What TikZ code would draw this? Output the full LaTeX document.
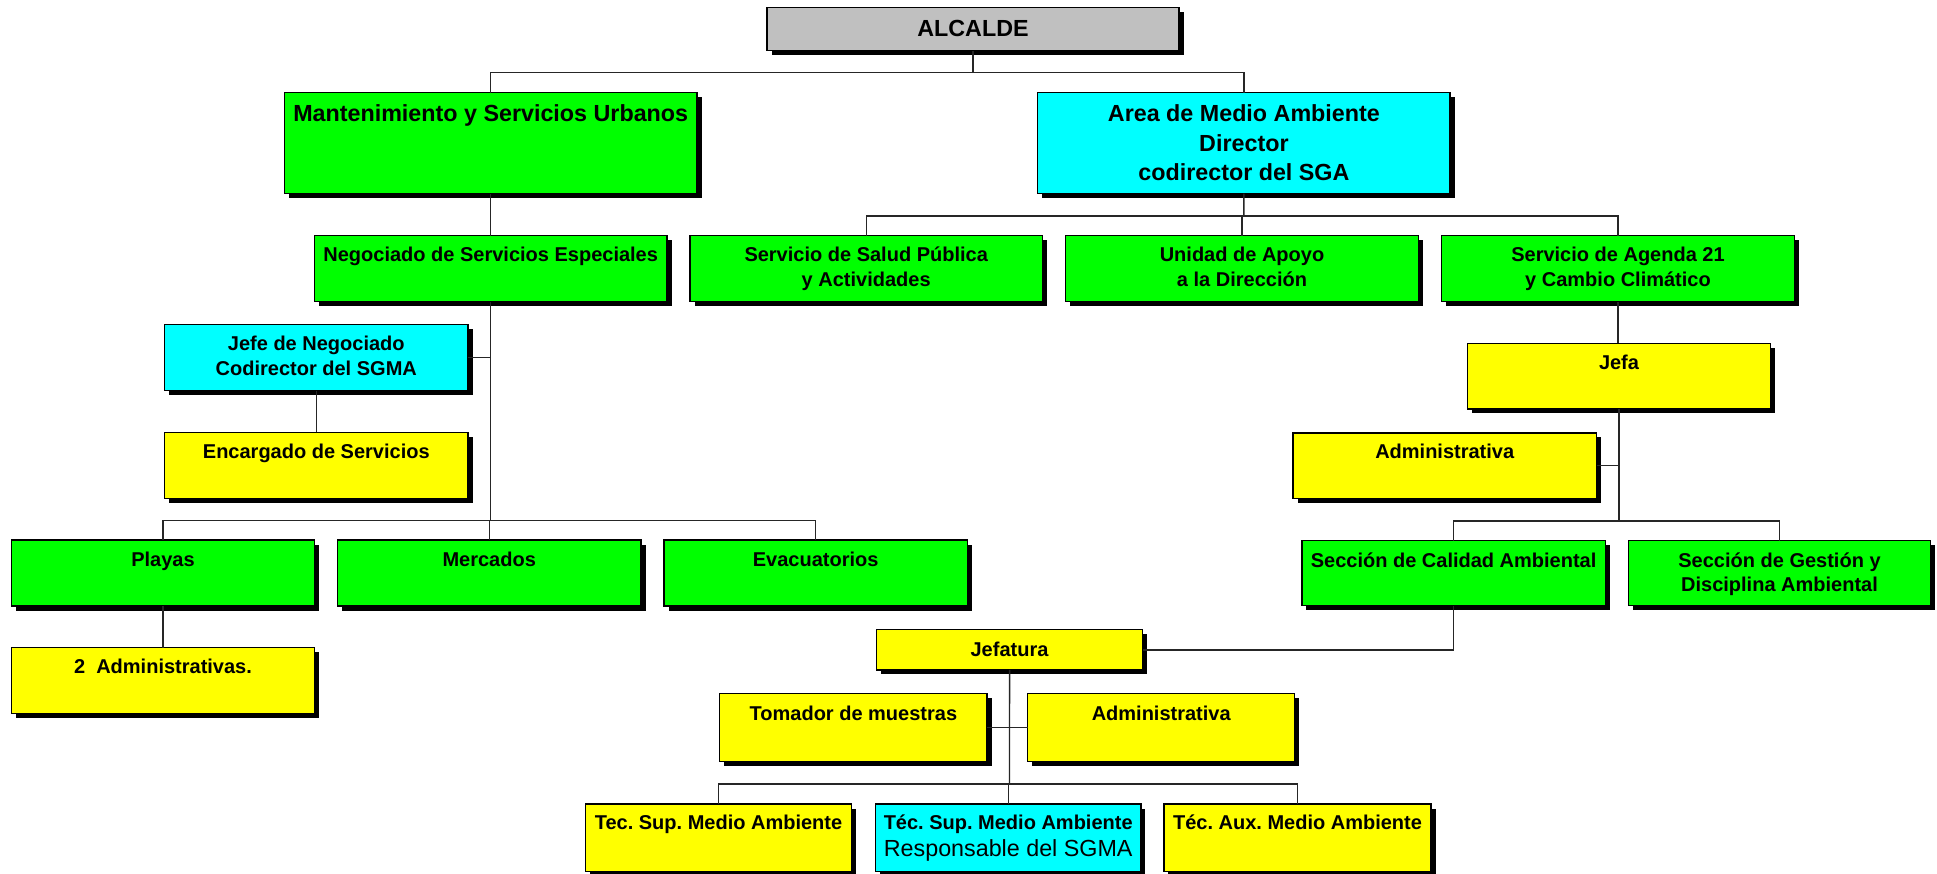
\documentclass[tikz,border=0pt]{standalone}
\usepackage{fontspec}
\setmainfont{Liberation Sans}
\usetikzlibrary{shadows}
\frenchspacing
\definecolor{cgreen}{HTML}{00FF00}
\definecolor{ccyan}{HTML}{00FFFF}
\definecolor{cyel}{HTML}{FFFF00}
\definecolor{cgray}{HTML}{C0C0C0}
\newcommand\fbig{\fontsize{23.3}{28}\selectfont\bfseries}
\newcommand\fsm{\fontsize{20}{24}\selectfont\bfseries}
\newcommand\freg{\fontsize{23.3}{28}\selectfont}
\tikzset{
  obox/.style={draw=black, line width=1.2pt, inner sep=0pt, outer sep=0pt,
    drop shadow={shadow xshift=4.5pt, shadow yshift=-4.5pt, fill=black, opacity=1}},
  txt/.style={anchor=base, inner sep=0pt, outer sep=0pt},
  conn/.style={draw=black!85, line width=1.4pt}
}
\newcommand\ob[6]{\node[obox, fill=#6, minimum width={(#4)-(#2)}, minimum height={(#5)-(#3)}] (#1) at ({((#2)+(#4))/2},{((#3)+(#5))/2}) {};}
\newcommand\tx[5]{\node[txt, font=#4] (#1) at (#2,#3) {#5};}
\begin{document}
\begin{tikzpicture}[x=1pt,y=-1pt]
\useasboundingbox (0,0) rectangle (1937,873);
\fill[white] (0,0) rectangle (1937,873);
% boxes
\ob{alc}{767}{7.3}{1179}{50.7}{cgray}
\ob{mant}{284.4}{92.7}{697}{193.7}{cgreen}
\ob{area}{1037.7}{92.7}{1450}{193.7}{ccyan}
\ob{neg}{314.4}{235.7}{667}{301.7}{cgreen}
\ob{salud}{690}{235.7}{1042.4}{301.7}{cgreen}
\ob{unidad}{1065.7}{235.7}{1418.4}{301.7}{cgreen}
\ob{agenda}{1441.7}{235.7}{1794.4}{301.7}{cgreen}
\ob{jefeneg}{164.5}{324.7}{468}{390.7}{ccyan}
\ob{enc}{164.5}{432.3}{468}{498.7}{cyel}
\ob{playas}{11.5}{540}{314.4}{606}{cgreen}
\ob{merc}{337.4}{540}{641}{606}{cgreen}
\ob{evac}{664}{540}{967.5}{606}{cgreen}
\ob{adm2}{11.5}{647.7}{314.4}{713.7}{cyel}
\ob{jefa}{1467.3}{343.3}{1770.7}{408.9}{cyel}
\ob{admR}{1293}{432.9}{1596.5}{498.1}{cyel}
\ob{calidad}{1301.9}{540.5}{1605.3}{605.7}{cgreen}
\ob{gestion}{1628.3}{540.5}{1930.8}{605.7}{cgreen}
\ob{jefatura}{876.4}{629.7}{1142.7}{669.9}{cyel}
\ob{tomador}{719.8}{693.2}{987}{761.6}{cyel}
\ob{admB}{1027.7}{693.2}{1294.8}{761.6}{cyel}
\ob{tecsup}{585.4}{804}{851.6}{871.3}{cyel}
\ob{tecsupb}{875.5}{804}{1140.9}{871.3}{ccyan}
\ob{tecaux}{1163.9}{804}{1431}{871.3}{cyel}
% texts
\tx{t1}{973}{36.7}{\fbig}{ALCALDE}
\tx{t2}{490.7}{121.7}{\fbig}{Mantenimiento y Servicios Urbanos}
\tx{t3}{1243.9}{121.7}{\fbig}{Area de Medio Ambiente}
\tx{t4}{1243.9}{151}{\fbig}{Director}
\tx{t5}{1243.9}{180}{\fbig}{codirector del SGA}
\tx{t6}{490.7}{261.7}{\fsm}{Negociado de Servicios Especiales}
\tx{t7}{866.2}{261.7}{\fsm}{Servicio de Salud Pública}
\tx{t8}{866.2}{286.7}{\fsm}{y Actividades}
\tx{t9}{1242}{261.7}{\fsm}{Unidad de Apoyo}
\tx{t10}{1242}{286.7}{\fsm}{a la Dirección}
\tx{t11}{1618}{261.7}{\fsm}{Servicio de Agenda 21}
\tx{t12}{1618}{286.7}{\fsm}{y Cambio Climático}
\tx{t13}{316.3}{350}{\fsm}{Jefe de Negociado}
\tx{t14}{316.3}{375}{\fsm}{Codirector del SGMA}
\tx{t15}{316.3}{458}{\fsm}{Encargado de Servicios}
\tx{t16}{163}{566.7}{\fsm}{Playas}
\tx{t17}{489.2}{566.7}{\fsm}{Mercados}
\tx{t18}{815.7}{566.7}{\fsm}{Evacuatorios}
\tx{t19}{163}{673.3}{\fsm}{2\ \ Administrativas.}
\tx{t20}{1619}{369.4}{\fsm}{Jefa}
\tx{t21}{1444.7}{458}{\fsm}{Administrativa}
\tx{t22}{1453.6}{567}{\fsm}{Sección de Calidad Ambiental}
\tx{t23}{1779.5}{567}{\fsm}{Sección de Gestión y}
\tx{t24}{1779.5}{591.6}{\fsm}{Disciplina Ambiental}
\tx{t25}{1009.5}{656.9}{\fsm}{Jefatura}
\tx{t26}{853.4}{720}{\fsm}{Tomador de muestras}
\tx{t27}{1161.2}{720}{\fsm}{Administrativa}
\tx{t28}{718.5}{829.7}{\fsm}{Tec. Sup. Medio Ambiente}
\tx{t29}{1008.2}{829.7}{\fsm}{Téc. Sup. Medio Ambiente}
\tx{t30}{1008.2}{856}{\freg}{Responsable del SGMA}
\tx{t31}{1297.5}{829.7}{\fsm}{Téc. Aux. Medio Ambiente}
% connectors
\coordinate (b1) at (973,72.7);
\draw[conn] (alc.south) -- (b1);
\draw[conn] (mant.north) |- (b1) -| (area.north);
\draw[conn] (mant.south) -- (neg.north);
\coordinate (b2) at (1243.9,216);
\draw[conn] (area.south) -- (b2);
\draw[conn] (salud.north) |- (b2) -| (agenda.north);
\draw[conn] (unidad.north) -- (unidad.north |- b2);
\coordinate (b3) at (490.7,520.7);
\draw[conn] (neg.south) -- (b3);
\draw[conn] (jefeneg.east) -- (jefeneg.east -| b3);
\draw[conn] (jefeneg.south) -- (enc.north);
\draw[conn] (playas.north) |- (b3) -| (evac.north);
\draw[conn] (merc.north) -- (merc.north |- b3);
\draw[conn] (playas.south) -- (adm2.north);
\draw[conn] (agenda.south) -- (agenda.south |- jefa.north);
\coordinate (b4) at (1619,521);
\draw[conn] (jefa.south) -- (b4);
\draw[conn] (admR.east) -- (admR.east -| b4);
\draw[conn] (calidad.north) |- (b4) -| (gestion.north);
\draw[conn] (calidad.south) |- (jefatura.east);
\coordinate (b5) at (1009.5,783.8);
\draw[conn] (jefatura.south) -- (b5);
\draw[conn] (tomador.east) -- (admB.west);
\draw[conn] (tecsup.north) |- (b5) -| (tecaux.north);
\draw[conn] (tecsupb.north) -- (tecsupb.north |- b5);
\end{tikzpicture}
\end{document}
